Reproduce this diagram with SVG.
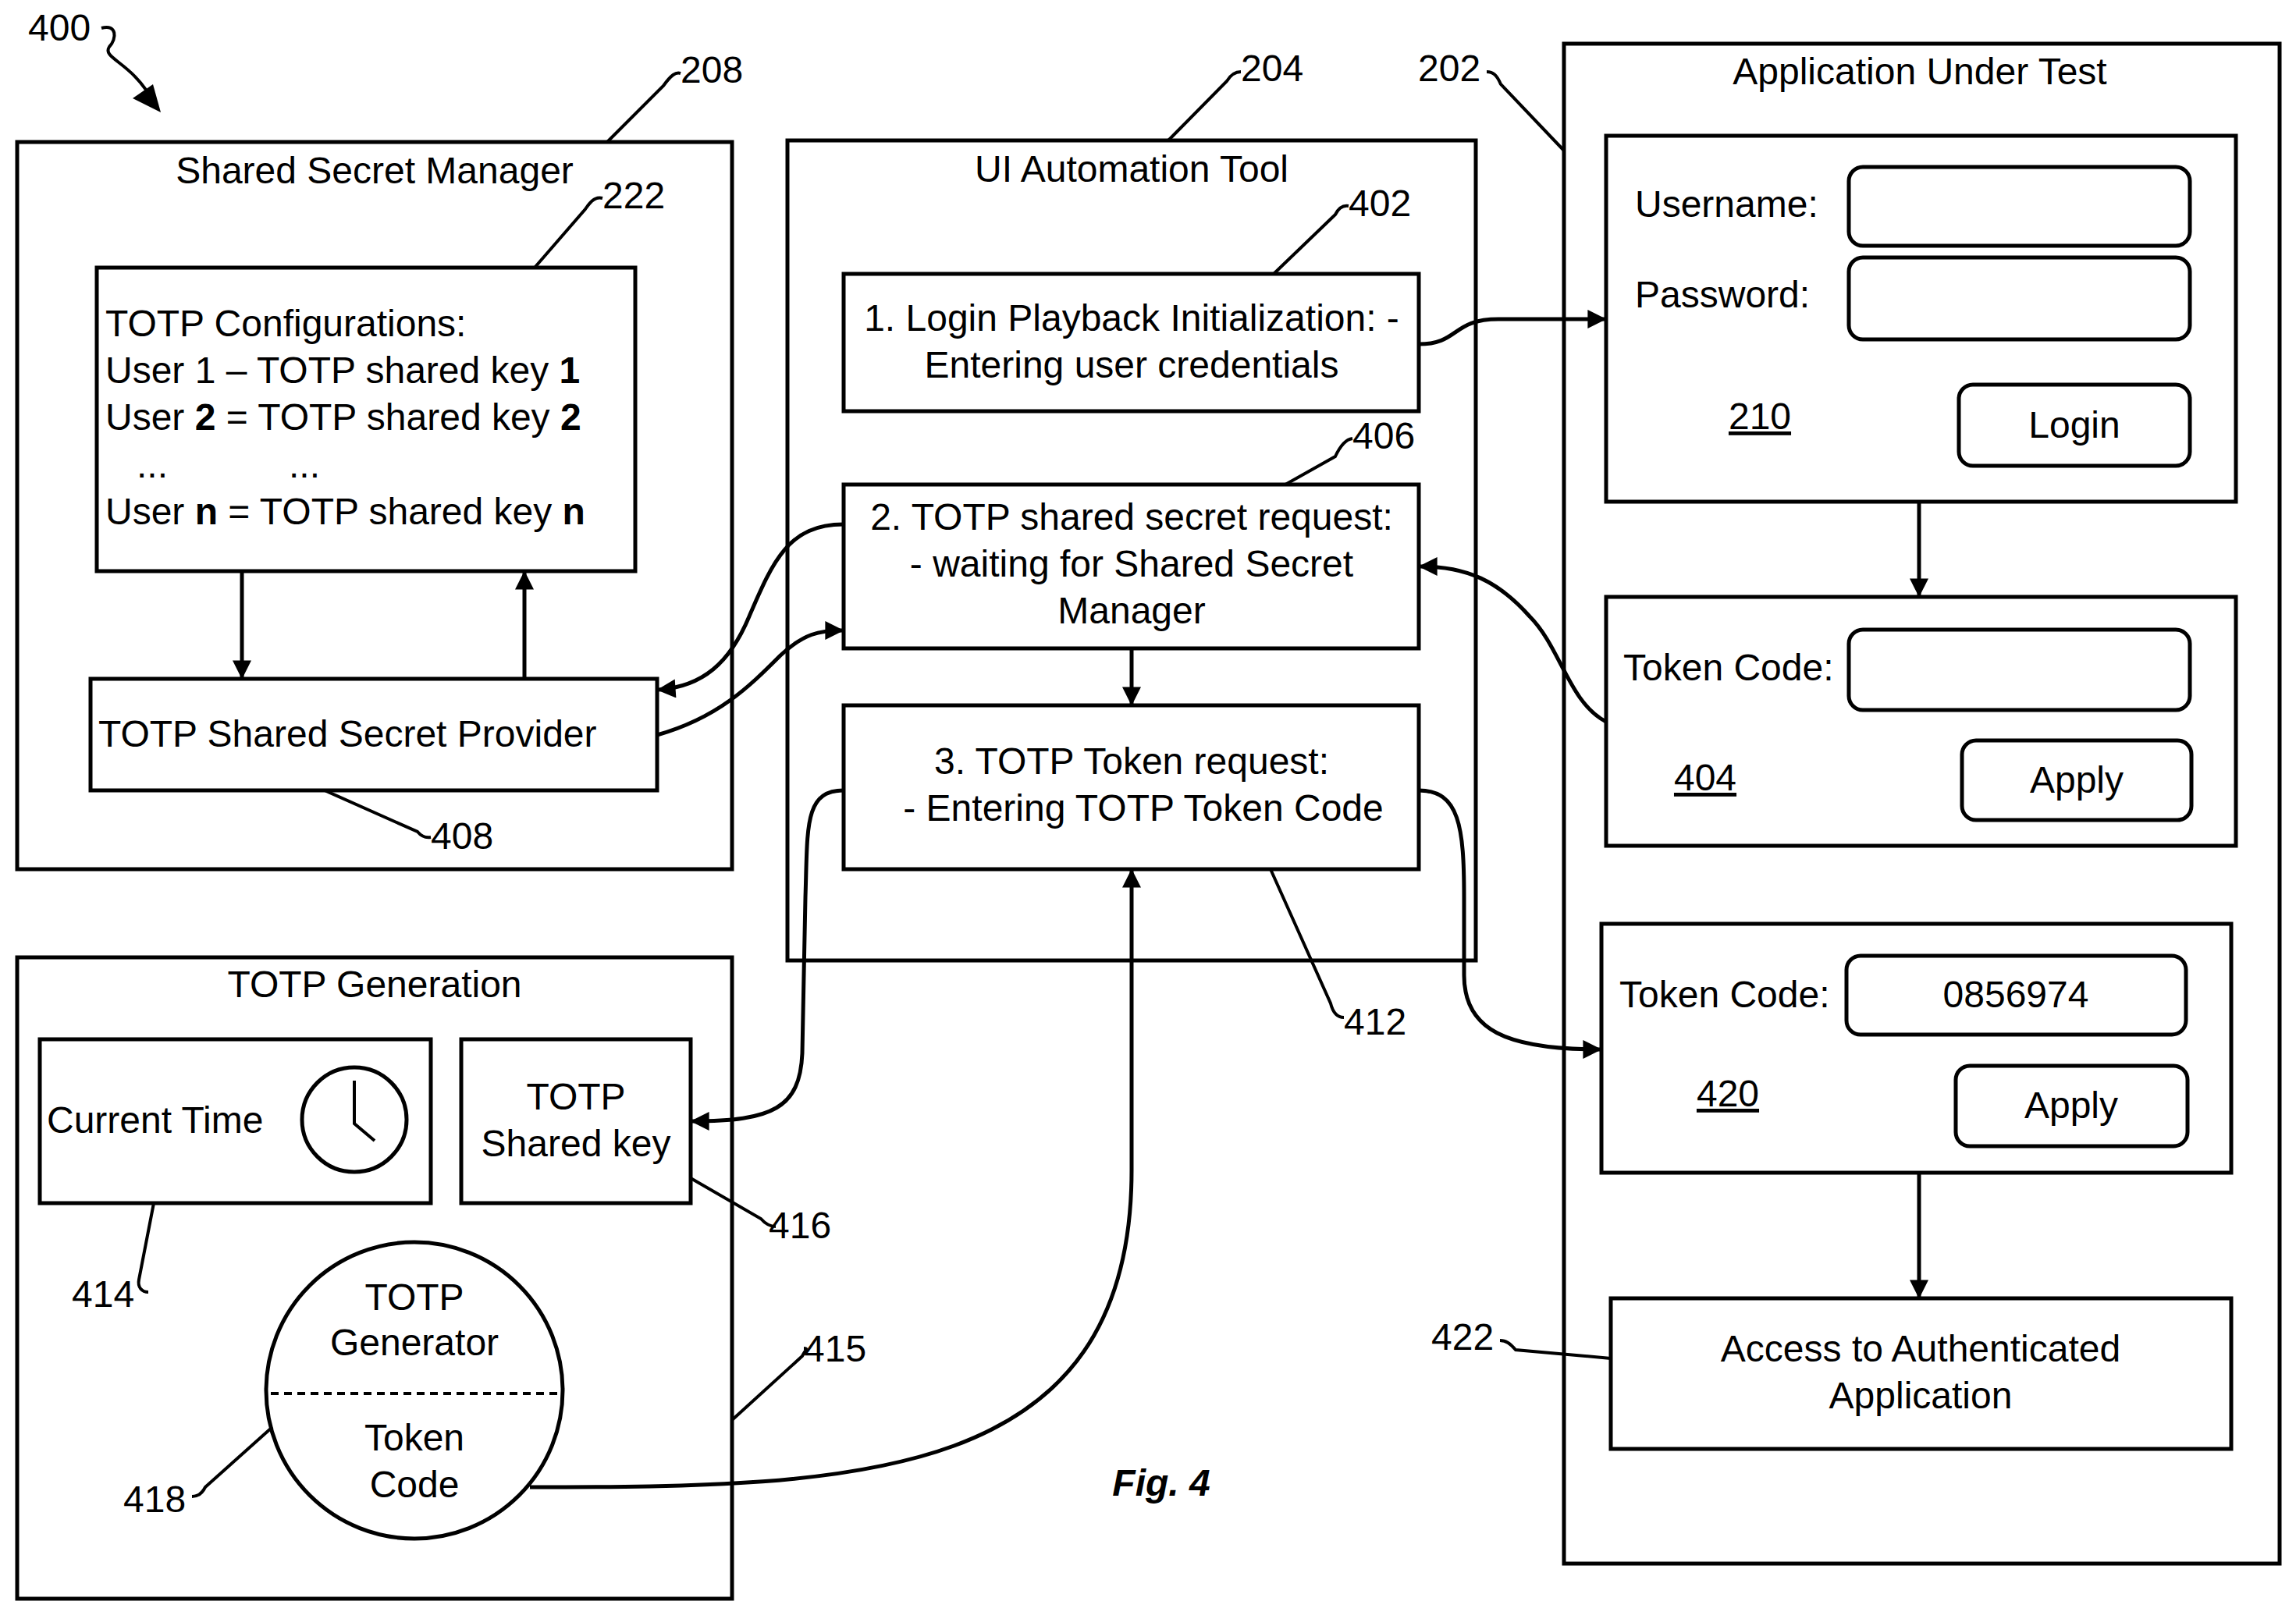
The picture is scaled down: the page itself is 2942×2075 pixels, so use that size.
<svg xmlns="http://www.w3.org/2000/svg" width="2942" height="2075" viewBox="0 0 2942 2075">
<style>
.b{fill:none;stroke:#000;stroke-width:5}
.l{fill:none;stroke:#000;stroke-width:4}
.c{fill:none;stroke:#000;stroke-width:5;marker-end:url(#ah)}
text{font-family:"Liberation Sans",Arial,sans-serif;font-size:48px;fill:#000}
.m{text-anchor:middle}
</style>
<defs><marker id="ah" viewBox="0 0 10 10" refX="9" refY="5" markerWidth="30" markerHeight="24" orient="auto" markerUnits="userSpaceOnUse"><path d="M0 0L10 5L0 10z" fill="#000"/></marker></defs>
<rect width="2942" height="2075" fill="#fff"/>
<g id="label400"><text x="36" y="52">400</text><path class="l" d="M130 36 C150 30 150 50 140 60 C130 75 170 80 196 130"/><path d="M206 144 L170 126 L196 108Z" fill="#000"/></g>
<g id="ssm"><rect class="b" x="22" y="182" width="916" height="932"/><text class="m" x="480" y="235">Shared Secret Manager</text>
<path class="l" d="M778 182 L850 110 C860 96 866 92 872 94"/><text x="872" y="106">208</text></g>
<g id="config"><rect class="b" x="124" y="343" width="690" height="389"/>
<text x="135" y="431">TOTP Configurations:</text>
<text x="135" y="491">User 1 – TOTP shared key <tspan font-weight="bold">1</tspan></text>
<text x="135" y="551">User <tspan font-weight="bold">2</tspan> = TOTP shared key <tspan font-weight="bold">2</tspan></text>
<text x="175" y="612">...</text><text x="370" y="612">...</text>
<text x="135" y="672">User <tspan font-weight="bold">n</tspan> = TOTP shared key <tspan font-weight="bold">n</tspan></text>
<path class="l" d="M685 343 L750 268 C758 256 764 252 772 254"/><text x="772" y="267">222</text></g>
<g id="provider"><rect class="b" x="116" y="870" width="726" height="143"/><text x="126" y="957">TOTP Shared Secret Provider</text>
<path class="l" d="M416 1013 L535 1066 C540 1072 546 1074 552 1073"/><text x="552" y="1088">408</text></g>
<g id="uat"><rect class="b" x="1009" y="180" width="882" height="1051"/><text class="m" x="1450" y="233">UI Automation Tool</text>
<path class="l" d="M1497 180 L1572 104 C1578 94 1584 92 1590 92"/><text x="1590" y="104">204</text></g>
<g id="n402"><rect class="b" x="1081" y="351" width="737" height="176"/><text class="m" x="1450" y="424">1. Login Playback Initialization: -</text><text class="m" x="1450" y="484">Entering user credentials</text>
<path class="l" d="M1632 351 L1711 275 C1716 265 1722 263 1728 264"/><text x="1728" y="277">402</text></g>
<g id="n406"><rect class="b" x="1081" y="621" width="737" height="210"/><text class="m" x="1450" y="679">2. TOTP shared secret request:</text><text class="m" x="1450" y="739">- waiting for Shared Secret</text><text class="m" x="1450" y="799">Manager</text>
<path class="l" d="M1647 621 L1711 585 C1718 570 1725 563 1733 562"/><text x="1733" y="575">406</text></g>
<g id="n3"><rect class="b" x="1081" y="904" width="737" height="210"/><text class="m" x="1450" y="992">3. TOTP Token request:</text><text class="m" x="1465" y="1052">- Entering TOTP Token Code</text>
<path class="l" d="M1628 1114 L1705 1286 C1708 1298 1714 1304 1722 1304"/><text x="1722" y="1326">412</text></g>
<g id="aut"><rect class="b" x="2004" y="56" width="917" height="1948"/><text class="m" x="2460" y="108">Application Under Test</text>
<path class="l" d="M2004 193 L1923 108 C1918 96 1913 92 1905 92"/><text x="1817" y="104">202</text></g>
<g id="n210"><rect class="b" x="2058" y="174" width="807" height="469"/><text x="2095" y="278">Username:</text><text x="2095" y="394">Password:</text>
<rect class="b" x="2369" y="214" width="437" height="101" rx="18"/><rect class="b" x="2369" y="330" width="437" height="105" rx="18"/>
<text class="m" x="2255" y="550" text-decoration="underline">210</text><rect class="b" x="2510" y="493" width="296" height="104" rx="18"/><text class="m" x="2658" y="561">Login</text></g>
<g id="n404"><rect class="b" x="2058" y="765" width="807" height="319"/><text x="2080" y="872">Token Code:</text><rect class="b" x="2369" y="807" width="437" height="103" rx="18"/>
<text class="m" x="2185" y="1013" text-decoration="underline">404</text><rect class="b" x="2514" y="949" width="294" height="102" rx="18"/><text class="m" x="2661" y="1016">Apply</text></g>
<g id="n420"><rect class="b" x="2052" y="1184" width="807" height="319"/><text x="2075" y="1291">Token Code:</text><rect class="b" x="2366" y="1225" width="435" height="101" rx="18"/><text class="m" x="2583" y="1291">0856974</text>
<text class="m" x="2214" y="1418" text-decoration="underline">420</text><rect class="b" x="2506" y="1366" width="297" height="103" rx="18"/><text class="m" x="2654" y="1433">Apply</text></g>
<g id="n422"><rect class="b" x="2064" y="1664" width="795" height="193"/><text class="m" x="2461" y="1745">Access to Authenticated</text><text class="m" x="2461" y="1805">Application</text>
<path class="l" d="M2064 1741 L1942 1730 C1935 1722 1930 1718 1922 1718"/><text x="1834" y="1730">422</text></g>
<g id="gen"><rect class="b" x="22" y="1227" width="916" height="822"/><text class="m" x="480" y="1278">TOTP Generation</text></g>
<g id="time"><rect class="b" x="51" y="1332" width="501" height="210"/><text x="60" y="1452">Current Time</text><circle class="b" cx="454" cy="1435" r="67"/><path class="l" d="M454 1385 L454 1440 L480 1462"/>
<path class="l" d="M197 1542 L178 1640 C176 1650 182 1656 190 1656"/><text x="92" y="1675">414</text></g>
<g id="key"><rect class="b" x="591" y="1332" width="294" height="210"/><text class="m" x="738" y="1422">TOTP</text><text class="m" x="738" y="1482">Shared key</text>
<path class="l" d="M885 1510 L975 1562 C982 1570 988 1572 994 1572"/><text x="985" y="1587">416</text></g>
<g id="generator"><circle class="b" cx="531" cy="1782" r="190"/><path d="M347 1786 H715" stroke="#000" stroke-width="4" stroke-dasharray="10 7"/>
<text class="m" x="531" y="1679">TOTP</text><text class="m" x="531" y="1737">Generator</text><text class="m" x="531" y="1859">Token</text><text class="m" x="531" y="1919">Code</text>
<path class="l" d="M349 1829 L263 1906 C258 1916 252 1918 246 1918"/><text x="158" y="1938">418</text>
<path class="l" d="M938 1820 L1028 1738 C1032 1730 1036 1728 1030 1728"/><text x="1030" y="1745">415</text></g>
<g id="fig"><text class="m" x="1488" y="1917" font-size="68" font-weight="bold" font-style="italic">Fig. 4</text></g>
<g id="connectors">
<path class="c" d="M310 732 V868"/>
<path class="c" d="M672 870 V734"/>
<path class="c" d="M1450 831 V902"/>
<path class="c" d="M2459 643 V763"/>
<path class="c" d="M2459 1503 V1662"/>
<path class="c" d="M1818 441 C1870 441 1860 409 1920 409 L2056 409"/>
<path class="c" d="M1081 672 C1010 672 990 720 960 790 C935 850 900 880 844 884"/>
<path class="c" d="M842 942 C920 920 960 880 1000 840 C1030 812 1050 808 1079 808"/>
<path class="c" d="M2058 925 C2010 900 2000 830 1960 790 C1920 745 1880 726 1820 726"/>
<path class="c" d="M1081 1013 C1030 1013 1035 1060 1032 1150 L1028 1350 C1025 1420 990 1437 887 1437"/>
<path class="c" d="M1818 1013 C1870 1013 1876 1060 1876 1150 L1876 1250 C1876 1320 1930 1345 2050 1345"/>
<path class="c" d="M679 1906 C1100 1906 1450 1900 1450 1500 L1450 1116"/>
</g>
</svg>
